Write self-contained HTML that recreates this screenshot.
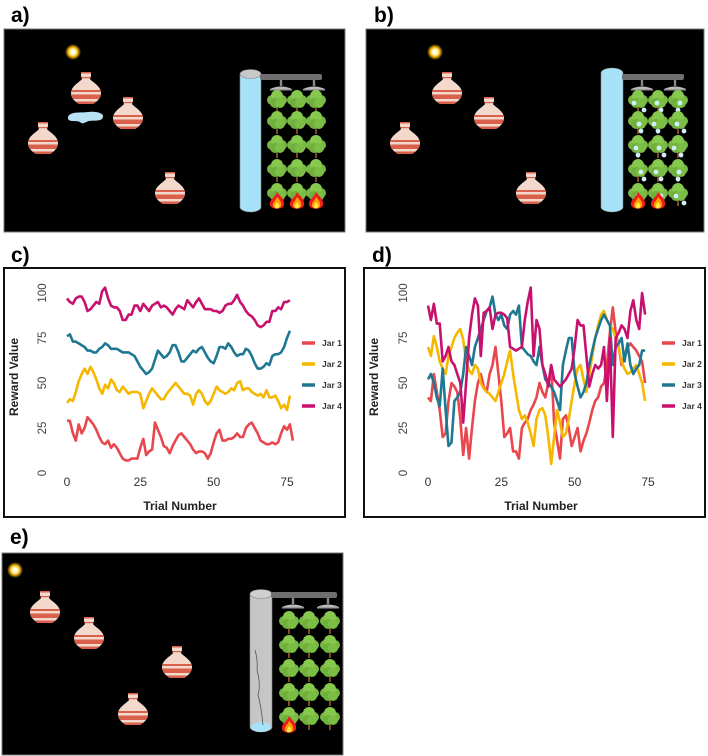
<!DOCTYPE html>
<html><head><meta charset="utf-8">
<style>
html,body{margin:0;padding:0;background:#fff;width:708px;height:756px;overflow:hidden}
svg{display:block}
text{font-family:"Liberation Sans",sans-serif}
</style></head>
<body>
<svg id="fig" width="708" height="756" viewBox="0 0 708 756" xmlns="http://www.w3.org/2000/svg">
<defs>
  <radialGradient id="sunGlow"><stop offset="0" stop-color="#fff"/><stop offset="0.35" stop-color="#fff6c0"/><stop offset="0.6" stop-color="#f3b400"/><stop offset="1" stop-color="#f3b400" stop-opacity="0"/></radialGradient>
  <clipPath id="jarClip"><path d="M-5,-16 L5,-16 L5,-12 L4,-9 C6,-6 15,-2 15,5 C15,11 10,14 7,16 L-7,16 C-10,14 -15,11 -15,5 C-15,-2 -6,-6 -4,-9 L-5,-12 Z"/></clipPath>
  <symbol id="jar" overflow="visible">
    <g clip-path="url(#jarClip)">
      <rect x="-16" y="-17" width="32" height="34" fill="#f2d9cc"/>
      <rect x="-16" y="-17" width="32" height="2.5" fill="#d9604a"/>
      <rect x="-16" y="-11" width="32" height="1.2" fill="#d9604a"/>
      <rect x="-16" y="2" width="32" height="2" fill="#d9604a"/>
      <rect x="-16" y="6.5" width="32" height="4.5" fill="#d9604a"/>
      <rect x="-16" y="13.5" width="32" height="3" fill="#d9604a"/>
    </g>
  </symbol>
  <symbol id="tree" overflow="visible">
    <path d="M0,2 L0,12 M0,6 L-3,3 M0,5 L3,2" stroke="#7a4a22" stroke-width="2" fill="none"/>
    <circle cx="-5" cy="-1" r="5" fill="#76b843"/><circle cx="5" cy="-1" r="5" fill="#76b843"/>
    <circle cx="0" cy="-5" r="6" fill="#86c94e"/><circle cx="-2" cy="2" r="5" fill="#6fb03c"/><circle cx="3" cy="2" r="5" fill="#7bbd45"/>
  </symbol>
  <symbol id="fire" overflow="visible">
    <path d="M0,-10 C4,-5 8,-2 7,3 C6,8 -6,8 -7,3 C-8,-2 -3,-3 0,-10Z" fill="#ee1c1c"/>
    <path d="M0,-5 C3,-2 5,1 4,4 C3,7 -3,7 -4,4 C-5,1 -2,0 0,-5Z" fill="#ffa000"/>
    <path d="M0,0 C2,2 3,4 2,5 C1,7 -2,7 -2,5 C-3,3 -1,2 0,0Z" fill="#ffe94a"/>
  </symbol>
  <symbol id="drop" overflow="visible"><circle r="2.4" fill="#cfeefa"/></symbol>
  <symbol id="sprinkler" overflow="visible">
    <rect x="-1.2" y="-6" width="2.4" height="6" fill="#888"/>
    <path d="M-11,3 Q0,-2 11,3 Z" fill="#bbb"/>
    <rect x="-11" y="3" width="22" height="1.5" fill="#999"/>
  </symbol>
</defs>

<text x="11" y="22" font-size="21" font-weight="bold">a)</text>
<text x="374" y="22" font-size="21" font-weight="bold">b)</text>
<text x="11" y="262" font-size="21" font-weight="bold">c)</text>
<text x="372" y="262" font-size="21" font-weight="bold">d)</text>
<text x="10" y="544" font-size="21" font-weight="bold">e)</text>

<g id="sceneA"></g>
<g id="sceneB"></g>
<g id="sceneE"></g>
<g id="chartC"></g>
<g id="chartD"></g>
</svg>

<script>
const seriesNames = ["Jar 1","Jar 2","Jar 3","Jar 4"];
const yTicks = [0,25,50,75,100];
const xTicks = [0,25,50,75];
const cJar1 = [29,29,22,18,27,22,25,31,29,27,24,20,17,16,18,14,16,14,11,8,7,7,8,8,8,14,19,10,12,13,28,24,20,15,14,11,15,18,21,22,20,18,16,13,11,12,12,11,8,11,17,22,24,18,18,19,19,20,22,20,20,25,27,28,25,22,18,17,16,16,17,16,17,22,26,24,27,18];
const cJar2 = [39,41,40,45,51,55,58,55,59,56,52,47,44,49,47,52,50,46,45,48,46,44,45,45,45,44,36,40,44,47,45,43,41,41,44,46,48,50,48,46,44,44,43,38,44,46,44,40,38,40,44,48,46,45,44,45,47,46,50,51,46,47,47,45,44,43,44,42,46,42,42,43,40,36,38,35,43];
const cJar3 = [76,77,73,73,72,71,70,68,68,67,67,69,70,72,71,69,69,69,68,67,67,67,66,65,62,59,57,55,56,58,63,68,66,64,65,67,71,71,67,62,62,64,66,68,67,69,70,67,64,62,61,65,70,70,69,72,70,67,65,66,66,69,68,65,61,58,58,59,61,60,65,66,66,67,70,75,79];
const cJar4 = [97,95,94,97,98,98,95,90,91,93,95,94,101,103,97,93,92,92,90,85,85,88,88,93,93,90,94,92,90,93,94,95,92,93,92,90,88,91,93,92,91,96,94,92,95,97,94,91,91,91,90,90,89,90,93,94,94,96,99,95,93,90,88,87,85,82,81,82,84,84,90,90,92,91,95,95,96];
const dJar1 = [42,40,55,45,35,20,22,40,50,48,45,30,10,25,8,25,40,50,55,48,45,55,60,70,55,40,20,22,25,12,12,8,25,28,30,35,38,42,50,45,42,50,60,28,18,8,30,32,25,15,20,25,12,18,22,28,35,40,42,48,50,60,78,92,78,70,60,65,70,72,70,68,65,62,50];
const dJar2 = [70,65,76,70,62,58,55,65,70,75,78,80,74,62,57,55,60,58,50,47,45,44,42,40,45,50,55,62,68,55,45,35,30,32,28,22,15,30,35,36,32,20,5,20,35,28,20,22,30,40,50,58,60,52,45,55,65,75,82,88,90,85,82,80,75,70,62,58,55,56,58,60,55,50,40];
const dJar3 = [52,55,50,42,37,58,35,15,17,40,42,45,55,70,65,60,70,75,80,85,90,92,98,88,85,88,82,80,88,90,88,93,70,68,66,65,62,60,70,60,52,50,48,45,40,35,60,68,75,75,55,48,42,45,50,60,68,75,80,85,88,85,82,60,70,72,75,62,72,60,55,58,60,68,68];
const dJar4 = [93,85,94,83,83,62,65,70,62,60,55,50,28,50,75,88,97,93,65,89,90,92,80,88,89,89,88,86,70,69,68,69,70,85,95,103,65,85,80,60,55,48,60,52,50,48,50,52,55,58,70,85,82,82,65,48,55,60,58,60,70,40,75,20,75,78,82,80,75,90,96,85,80,100,88];

const NS = "http://www.w3.org/2000/svg";
const colors = ["#e8474e","#f5b700","#1f7892","#c8116e"];
function mk(tag, attrs, parent){const e=document.createElementNS(NS,tag);for(const k in attrs)e.setAttribute(k,attrs[k]);if(parent)parent.appendChild(e);return e;}

function drawChart(g, box, x0px, x75px, series, tag){
  const xs = v => x0px + (x75px - x0px) * v / 75;
  const ys = v => 473 - 180 * v / 100;
  const frame = mk("rect",{x:box[0],y:box[1],width:box[2],height:box[3],fill:"#fff",stroke:"#111","stroke-width":2},g);
  
  
  yTicks.forEach(t=>{
    const tx = mk("text",{x:0,y:0,"font-size":11.5,fill:"#444","text-anchor":"middle",transform:`translate(${x0px-21},${ys(t)}) rotate(-90)`},g);
    tx.textContent = t;
    
    
  });
  xTicks.forEach(t=>{
    const tx = mk("text",{x:xs(t),y:486,"font-size":12,fill:"#333","text-anchor":"middle"},g);
    tx.textContent = t;
    
    
  });
  const xt = mk("text",{x:x0px+113,y:510,"font-size":12,"font-weight":"bold",fill:"#222","text-anchor":"middle"},g);
  xt.textContent = "Trial Number";
  
  
  const yt = mk("text",{x:0,y:0,"font-size":12,"font-weight":"bold",fill:"#222","text-anchor":"middle",transform:`translate(${box[0]+14},377) rotate(-90)`},g);
  yt.textContent = "Reward Value";
  
  
  series.forEach((arr,i)=>{
    const d = arr.map((v,k)=>(k?"L":"M")+xs(k).toFixed(1)+","+ys(v).toFixed(1)).join(" ");
    const p = mk("path",{d:d,fill:"none",stroke:colors[i],"stroke-width":2.6,"stroke-linejoin":"round"},g);
    
    
  });
  const lx = box[0] + box[2] - 43;
  seriesNames.forEach((n,i)=>{
    const ly = 343 + i*21;
    const ent = mk("g",{},g);
    
    
    mk("line",{x1:lx,x2:lx+13,y1:ly,y2:ly,stroke:colors[i],"stroke-width":3.5},ent);
    const t = mk("text",{x:lx+20,y:ly+3,"font-size":8.5,"font-weight":"bold",fill:"#333"},ent);
    t.textContent = n;
  });
}
drawChart(document.getElementById("chartC"), [4,268,341,249], 67, 287, [cJar1,cJar2,cJar3,cJar4], "c");
drawChart(document.getElementById("chartD"), [364,268,341,249], 428, 648, [dJar1,dJar2,dJar3,dJar4], "d");

function use(id, x, y, parent){return mk("use",{href:"#"+id,x:x,y:y},parent);}
function scene(g, o){
  const bg = mk("rect",{x:o.box[0],y:o.box[1],width:o.box[2],height:o.box[3],fill:"#000",stroke:"#777","stroke-width":1},g);
  
  
  const sun = mk("circle",{cx:o.sun[0],cy:o.sun[1],r:8,fill:"url(#sunGlow)"},g);
  
  
  if(o.puddle){
    const pd = mk("path",{d:`M${o.puddle[0]-18},${o.puddle[1]} c2,-6 14,-4 20,-5 c8,-1 16,1 15,5 c-1,5 -10,3 -14,4 c-4,1 -6,4 -9,1 c-4,-2 -13,1 -12,-5z`,fill:"#b9e3f4"},g);
    
    
  }
  o.jars.forEach(j=>{
    const u = use("jar", j[0], j[1], g);
    
    
  });
  const c = o.cyl;
  const tank = mk("g",{},g);
  
  
  mk("rect",{x:c[0],y:c[1],width:c[2],height:c[3],rx:c[2]/2,ry:5,fill:o.tankColor,stroke:"#888","stroke-width":0.6},tank);
  if(o.tankWater) mk("ellipse",{cx:c[0]+c[2]/2,cy:c[1]+c[3]-5,rx:c[2]/2-1,ry:5,fill:"#a8e2f8"},tank);
  if(o.crack) mk("path",{d:`M${c[0]+5},${c[1]+60} q3,10 2,20 q4,15 1,25 q3,10 5,30`,stroke:"#555","stroke-width":0.8,fill:"none"},tank);
  if(o.topGray) mk("ellipse",{cx:c[0]+c[2]/2,cy:c[1]+4,rx:c[2]/2,ry:4.5,fill:o.topGray,stroke:"#888","stroke-width":0.6},tank);
  const pipe = mk("rect",{x:c[0]+c[2]-1,y:o.pipe[0],width:o.pipe[1],height:6,rx:2,fill:"#6f6f6f"},g);
  
  
  o.spr.forEach(x=>{
    const s = use("sprinkler", x, o.pipe[0]+12, g);
    
    
  });
  o.rows.forEach((ry,ri)=>o.cols.forEach((cx,ci)=>{
    const t = use("tree", cx, ry, g);
    
    
    if(o.drops){ use("drop", cx-4+(ri*5+ci*3)%8, ry+2, g); use("drop", cx+6-(ri+ci)%3*3, ry+9, g); }
  }));
  o.fires.forEach(ci=>{
    const f = use("fire", o.cols[ci], o.rows[4]+8, g);
    
    
  });
}
scene(document.getElementById("sceneA"),{box:[4,29,341,203],sun:[73,52],puddle:[86,117],
  jars:[[86,88],[128,113],[43,138],[170,188]],cyl:[240,70,21,142],tankColor:"#a8e2f8",topGray:"#c8c8c8",
  pipe:[74,62],spr:[281,314],cols:[277,297,316],rows:[101,122,146,170,194],fires:[0,1,2]});
scene(document.getElementById("sceneB"),{box:[366,29,338,203],sun:[435,52],
  jars:[[447,88],[489,113],[405,138],[531,188]],cyl:[601,68,22,144],tankColor:"#a8e2f8",
  pipe:[74,62],spr:[642,675],cols:[638,658,678],rows:[101,122,146,170,194],fires:[0,1],drops:true});
scene(document.getElementById("sceneE"),{box:[2,553,341,202],sun:[15,570],
  jars:[[45,607],[89,633],[177,662],[133,709]],cyl:[250,590,22,142],tankColor:"#c6c6c6",topGray:"#cfcfcf",tankWater:true,crack:true,
  pipe:[592,66],spr:[293,328],cols:[289,309,330],rows:[622,646,670,694,718],fires:[0]});
</script>
</body></html>
